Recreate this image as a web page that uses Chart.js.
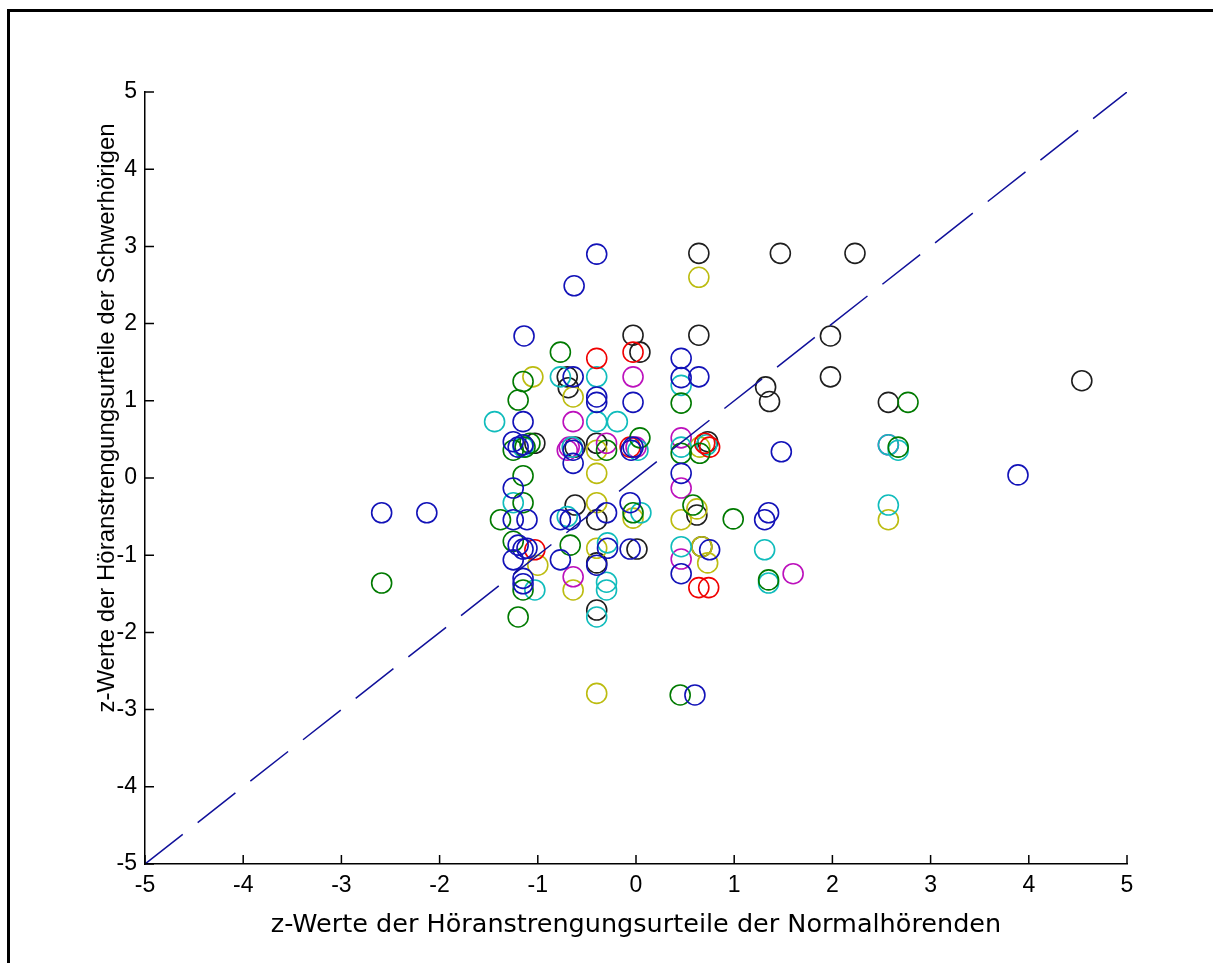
<!DOCTYPE html>
<html>
<head>
<meta charset="utf-8">
<script src="https://cdn.jsdelivr.net/npm/chart.js@4"></script>
<style>
  body { margin: 0; background: #fff; }
  #wrap { position: relative; width: 1213px; height: 963px; overflow: hidden; }
  #frame { position: absolute; left: 7px; top: 9px; width: 1300px; height: 1100px;
           border-left: 3px solid #000; border-top: 3px solid #000; pointer-events: none; }
</style>
</head>
<body>
<div id="wrap">
  <canvas id="zChart" width="1213" height="963"></canvas>
  <div id="frame"></div>
</div>
<script>
// Achsen
const axisTicks = [-5, -4, -3, -2, -1, 0, 1, 2, 3, 4, 5];
const xTitle = 'z-Werte der Höranstrengungsurteile der Normalhörenden';
const yTitle = 'z-Werte der Höranstrengungsurteile der Schwerhörigen';

// Diagonale (Normalhörende = Schwerhörige)
const diagX = [-5, 5];
const diagY = [-5, 5];

// Punkte je Farbe [x, y]
const bluePts = [
  [-2.59, -0.45], [-2.13, -0.45], [-0.40, 2.90], [-0.63, 2.49], [-1.14, 1.84],
  [-0.64, 1.31], [-0.40, 1.05], [-0.40, 0.98], [-0.03, 0.98], [-1.15, 0.73],
  [-0.64, 0.36], [-0.64, 0.19], [-1.25, 0.47], [-1.20, 0.40], [-1.15, 0.43],
  [-0.03, 0.40], [-0.05, 0.36], [0.46, 1.55], [0.46, 1.30], [0.64, 1.31],
  [0.46, 0.06], [1.48, 0.34], [3.89, 0.04], [-1.25, -0.13], [-1.25, -0.54],
  [-1.11, -0.54], [-0.67, -0.54], [-0.77, -0.54], [-0.30, -0.45], [-0.06, -0.32],
  [1.35, -0.45], [1.31, -0.54], [-1.20, -0.87], [-1.15, -0.92], [-1.11, -0.91],
  [-1.25, -1.06], [-0.77, -1.06], [-0.29, -0.91], [-0.40, -1.13], [-0.06, -0.92],
  [0.75, -0.93], [0.46, -1.24], [-1.15, -1.30], [-1.15, -1.37], [0.60, -2.81]
];
const greenPts = [
  [-2.59, -1.36], [-0.77, 1.63], [-1.15, 1.25], [-1.20, 1.01], [-1.25, 0.36],
  [-1.08, 0.45], [-1.13, 0.40], [-0.30, 0.36], [0.04, 0.52], [0.46, 0.97],
  [0.46, 0.32], [0.65, 0.32], [2.77, 0.98], [2.67, 0.40], [-1.15, 0.03],
  [-1.15, -0.32], [-1.38, -0.54], [-0.03, -0.45], [0.58, -0.35], [0.99, -0.53],
  [-1.25, -0.82], [-0.67, -0.87], [-1.15, -1.45], [1.35, -1.32], [-1.20, -1.80],
  [0.45, -2.81]
];
const redPts = [
  [-0.40, 1.55], [-0.03, 1.63], [-0.06, 0.40], [0.75, 0.40], [0.70, 0.45],
  [-1.03, -0.93], [0.64, -1.42], [0.74, -1.42]
];
const cyanPts = [
  [-1.44, 0.73], [-0.77, 1.31], [-0.40, 1.31], [-0.40, 0.73], [-0.19, 0.73],
  [0.46, 1.20], [-1.15, 0.40], [-0.65, 0.40], [0.02, 0.36], [0.46, 0.40],
  [0.72, 0.43], [2.57, 0.43], [2.67, 0.36], [-1.25, -0.32], [0.05, -0.45],
  [-0.70, -0.50], [2.57, -0.35], [-0.29, -0.84], [0.46, -0.89], [1.31, -0.93],
  [1.35, -1.36], [-1.03, -1.45], [-0.30, -1.35], [-0.30, -1.45], [-0.40, -1.80]
];
const magentaPts = [
  [-0.03, 1.31], [-0.64, 0.73], [-0.70, 0.36], [-0.30, 0.45], [0.46, 0.52],
  [0.00, 0.40], [2.57, 0.43], [0.46, -0.13], [0.46, -1.05], [-0.64, -1.28],
  [1.60, -1.24], [-0.68, 0.40]
];
const yellowPts = [
  [0.64, 2.60], [-1.05, 1.31], [-0.64, 1.05], [-0.40, 0.36], [-0.40, 0.06],
  [0.65, 0.40], [-0.40, -0.32], [-0.03, -0.52], [0.46, -0.54], [2.57, -0.54],
  [-1.00, -1.13], [-0.40, -0.91], [0.67, -0.89], [0.73, -1.10], [-0.64, -1.45],
  [-0.40, -2.79], [0.62, -0.40]
];
const blackPts = [
  [0.64, 2.91], [1.47, 2.91], [2.23, 2.91], [-0.03, 1.85], [0.04, 1.63],
  [0.64, 1.85], [1.98, 1.84], [1.98, 1.31], [1.32, 1.18], [1.36, 0.99],
  [2.57, 0.98], [4.54, 1.26], [-0.70, 1.31], [-0.69, 1.17], [-1.03, 0.45],
  [-0.40, 0.45], [0.73, 0.47], [-0.62, -0.35], [-0.40, -0.54], [0.62, -0.48],
  [0.01, -0.92], [0.67, -0.89], [-0.40, -1.10], [-0.40, -1.71], [-0.62, 0.40]
];

const groups = [
  { pts: bluePts, color: '#1212b8' },
  { pts: greenPts, color: '#007a00' },
  { pts: redPts, color: '#f00000' },
  { pts: cyanPts, color: '#10bcbc' },
  { pts: magentaPts, color: '#bc10bc' },
  { pts: yellowPts, color: '#bcbc10' },
  { pts: blackPts, color: '#1e1e1e' }
];

const fontFam = "'Liberation Sans', Arial, sans-serif";

// kleine Striche nach innen, wie in MATLAB
const innerTicks = {
  id: 'innerTicks',
  afterDraw(chart) {
    const { ctx, chartArea, scales } = chart;
    ctx.save();
    ctx.strokeStyle = '#000';
    ctx.lineWidth = 1.5;
    ctx.beginPath();
    axisTicks.forEach(v => {
      const px = scales.x.getPixelForValue(v);
      ctx.moveTo(px, chartArea.bottom);
      ctx.lineTo(px, chartArea.bottom - 9);
      const py = scales.y.getPixelForValue(v);
      ctx.moveTo(chartArea.left, py);
      ctx.lineTo(chartArea.left + 9, py);
    });
    ctx.stroke();
    ctx.restore();
  }
};

// y-Beschriftung sitzt im Original etwas oberhalb der Achsenmitte
const yLabel = {
  id: 'yLabel',
  afterDraw(chart) {
    const { ctx, chartArea } = chart;
    ctx.save();
    ctx.translate(chartArea.left - 38, chartArea.top + 326);
    ctx.rotate(-Math.PI / 2);
    ctx.font = "24px 'Liberation Sans', Arial, sans-serif";
    ctx.fillStyle = '#000';
    ctx.textAlign = 'center';
    ctx.textBaseline = 'middle';
    ctx.fillText(yTitle, 0, 0);
    ctx.restore();
  }
};

const datasets = groups.map(g => ({
  type: 'scatter',
  data: g.pts.map(p => ({ x: p[0], y: p[1] })),
  borderColor: g.color,
  backgroundColor: 'rgba(0,0,0,0)',
  pointStyle: 'circle',
  pointRadius: 10,
  pointBorderWidth: 1.6
}));
datasets.unshift({
  type: 'line',
  data: diagX.map((x, i) => ({ x: x, y: diagY[i] })),
  borderColor: '#10109a',
  borderWidth: 1.5,
  borderDash: [48, 19],
  pointRadius: 0,
  fill: false
});

new Chart(document.getElementById('zChart'), {
  type: 'scatter',
  data: { datasets: datasets },
  options: {
    responsive: false,
    animation: false,
    layout: { padding: { left: 0, top: 92, right: 86, bottom: 0 } },
    plugins: { legend: { display: false }, tooltip: { enabled: false } },
    scales: {
      x: {
        type: 'linear', min: -5, max: 5,
        afterFit: s => { s.height = 99; },
        ticks: { stepSize: 1, autoSkip: false, color: '#000', padding: 8,
                 font: { family: fontFam, size: 23 } },
        grid: { drawOnChartArea: false, drawTicks: false },
        border: { display: true, color: '#000', width: 1.5 },
        title: { display: true, text: xTitle, color: '#000',
                 font: { family: "'DejaVu Sans', sans-serif", size: 25.5 },
                 padding: { top: 0, bottom: 22 } }
      },
      y: {
        type: 'linear', min: -5, max: 5,
        afterFit: s => { s.width = 145; },
        ticks: { stepSize: 1, autoSkip: false, color: '#000', padding: 8,
                 font: { family: fontFam, size: 23 } },
        grid: { drawOnChartArea: false, drawTicks: false },
        border: { display: true, color: '#000', width: 1.5 },
        title: { display: false }
      }
    }
  },
  plugins: [innerTicks, yLabel]
});
</script>
</body>
</html>
